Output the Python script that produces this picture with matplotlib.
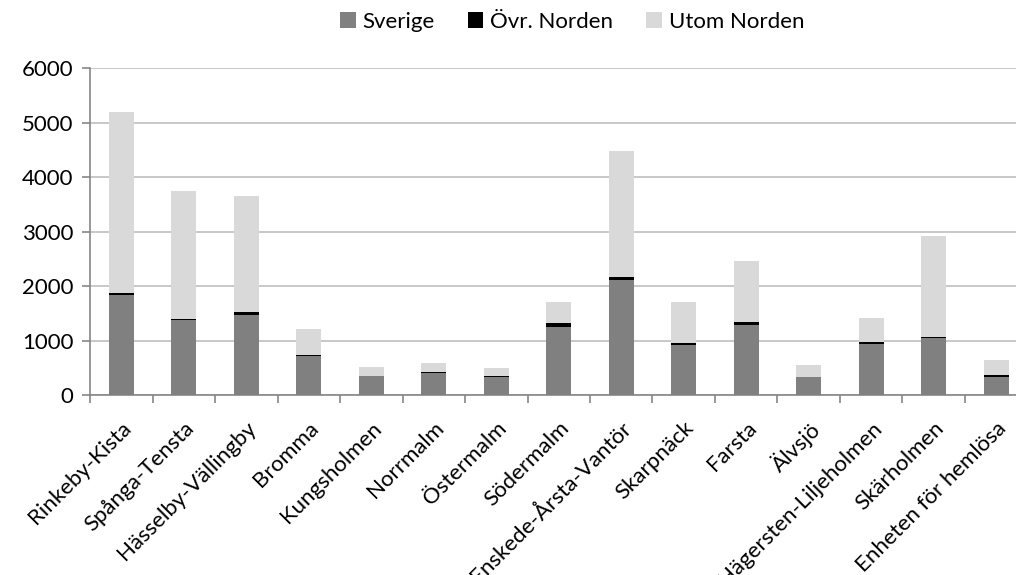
import numpy as np
import matplotlib
matplotlib.use("Agg")
import matplotlib.pyplot as plt
import matplotlib.transforms as mtransforms
from matplotlib.ticker import FixedLocator

plt.rcParams["font.family"] = ["Lato", "DejaVu Sans"]

# data
districts = ["Rinkeby-Kista", "Spånga-Tensta", "Hässelby-Vällingby", "Bromma",
             "Kungsholmen", "Norrmalm", "Östermalm", "Södermalm",
             "Enskede-Årsta-Vantör", "Skarpnäck", "Farsta", "Älvsjö",
             "Hägersten-Liljeholmen", "Skärholmen", "Enheten för hemlösa"]
sverige = [1840, 1380, 1475, 722, 355, 416, 343, 1261, 2124, 924, 1291, 343, 942, 1059, 330]
ovr_norden = [35, 20, 55, 25, 5, 8, 5, 60, 55, 30, 50, 3, 40, 18, 43]
utom_norden = [3310, 2352, 2124, 477, 154, 170, 148, 393, 2295, 760, 1125, 217, 438, 1836, 270]

fig = plt.figure(figsize=(10.16, 5.75), dpi=100)
ax = fig.add_axes([0.0886, 0.3122, 0.9227, 0.5696])

x = np.arange(len(districts))
sv = np.array(sverige)
on = np.array(ovr_norden)
un = np.array(utom_norden)
w = 0.4
ax.bar(x, sv, w, color="#808080", label="Sverige", zorder=3)
ax.bar(x, on, w, bottom=sv, color="#000000", label="Övr. Norden", zorder=3)
ax.bar(x, un, w, bottom=sv + on, color="#d9d9d9", label="Utom Norden", zorder=3)

ax.set_xlim(-0.5, len(districts) - 0.5)
ax.set_ylim(0, 6000)
ax.set_yticks(range(0, 6001, 1000))
ax.yaxis.grid(True, color="#bfbfbf", linewidth=1.2, zorder=0)
ax.set_axisbelow(True)

for s in ["top", "right"]:
    ax.spines[s].set_visible(False)
for s in ["left", "bottom"]:
    ax.spines[s].set_color("#868686")
    ax.spines[s].set_linewidth(1.2)

ax.tick_params(axis="y", length=6, width=1.2, color="#868686", labelsize=16, pad=6)
ax.set_xticks(x)
ax.set_xticklabels(districts, rotation=45, ha="right", va="top",
                   rotation_mode="anchor", fontsize=16)
ax.tick_params(axis="x", which="major", length=0, pad=9)
ax.xaxis.set_minor_locator(FixedLocator(np.arange(-0.5, len(districts), 1)))
ax.tick_params(axis="x", which="minor", length=6, width=1.2, color="#868686")

# push labels a bit lower, like the original
shift = mtransforms.ScaledTranslation(0, -10 / 100, fig.dpi_scale_trans)
for lab in ax.get_xticklabels():
    lab.set_transform(lab.get_transform() + shift)

fig.legend(loc="center", bbox_to_anchor=(572 / 1016, 1 - 22 / 575), ncol=3,
           frameon=False, fontsize=16, handlelength=0.7, handleheight=0.7,
           handletextpad=0.3, columnspacing=1.5)

fig.savefig("out.png", dpi=100)
